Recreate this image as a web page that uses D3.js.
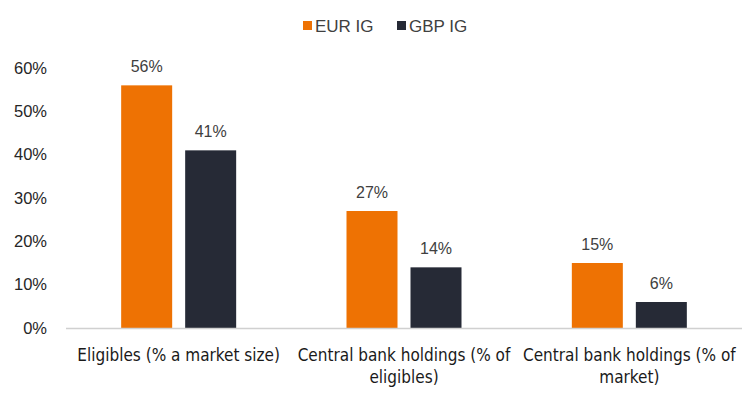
<!DOCTYPE html>
<html>
<head>
<meta charset="utf-8">
<script src="https://cdn.jsdelivr.net/npm/d3@7"></script>
<style>
  body { margin: 0; background: #fff; }
  svg { display: block; }
</style>
</head>
<body>
<div id="chart"></div>
<script>
// Data
const categories = [
  ["Eligibles (% a market size)"],
  ["Central bank holdings (% of", "eligibles)"],
  ["Central bank holdings (% of", "market)"]
];
const seriesNames = ["EUR IG", "GBP IG"];
const eurValues = [56, 27, 15];
const gbpValues = [41, 14, 6];
const yTicks = [0, 10, 20, 30, 40, 50, 60];
const colours = ["#EE7203", "#262A36"];

const width = 752, height = 393;
const margin = { top: 67, right: 10, bottom: 65, left: 66 };
const sans = "'Liberation Sans', Arial, Helvetica, sans-serif";
const narrow = "'Liberation Sans Narrow', 'Arial Narrow', 'DejaVu Sans Condensed', sans-serif";

const svg = d3.select("#chart").append("svg")
  .attr("width", width)
  .attr("height", height);

const x = d3.scaleBand()
  .domain(d3.range(categories.length))
  .range([margin.left, 742]);

const y = d3.scaleLinear()
  .domain([0, 60])
  .range([328, 328 - 60 * 4.333]);

const barW = 51, gap = 13;

// y axis labels
svg.append("g")
  .selectAll("text")
  .data(yTicks)
  .join("text")
  .attr("x", 47)
  .attr("y", d => y(d))
  .attr("dy", "0.35em")
  .attr("text-anchor", "end")
  .style("font-family", sans)
  .attr("font-size", 16.5)
  .attr("fill", "#262626")
  .text(d => d + "%");

// bars
const series = [eurValues, gbpValues];
series.forEach((vals, s) => {
  const offset = s === 0 ? -(barW + gap / 2) : gap / 2;
  const g = svg.append("g");
  g.selectAll("rect")
    .data(vals)
    .join("rect")
    .attr("x", (d, i) => x(i) + x.bandwidth() / 2 + offset)
    .attr("y", d => y(d))
    .attr("width", barW)
    .attr("height", d => y(0) - y(d))
    .attr("fill", colours[s]);
  g.selectAll("text")
    .data(vals)
    .join("text")
    .attr("x", (d, i) => x(i) + x.bandwidth() / 2 + offset + barW / 2)
    .attr("y", d => y(d) - 13)
    .attr("text-anchor", "middle")
    .style("font-family", sans)
    .attr("font-size", 16)
    .attr("fill", "#404040")
    .text(d => d + "%");
});

// baseline
svg.append("line")
  .attr("x1", margin.left).attr("x2", 742)
  .attr("y1", y(0) + 0.5).attr("y2", y(0) + 0.5)
  .attr("stroke", "#d0d0d0")
  .attr("stroke-width", 1.5);

// category labels
const cat = svg.append("g")
  .selectAll("text")
  .data(categories)
  .join("text")
  .attr("text-anchor", "middle")
  .style("font-family", narrow)
  .attr("font-size", 17)
  .attr("fill", "#1a1a1a");
cat.each(function(lines, i) {
  d3.select(this).selectAll("tspan")
    .data(lines)
    .join("tspan")
    .attr("x", x(i) + x.bandwidth() / 2)
    .attr("y", (d, j) => 361 + j * 22)
    .text(d => d);
});

// legend
const legend = svg.append("g");
const legendX = [303, 397];
seriesNames.forEach((name, i) => {
  legend.append("rect")
    .attr("x", legendX[i])
    .attr("y", 21)
    .attr("width", 9)
    .attr("height", 9)
    .attr("fill", colours[i]);
  legend.append("text")
    .attr("x", legendX[i] + 12)
    .attr("y", 26)
    .attr("dy", "0.35em")
    .style("font-family", sans)
    .attr("font-size", 17)
    .attr("fill", "#404040")
    .text(name);
});
</script>
</body>
</html>
